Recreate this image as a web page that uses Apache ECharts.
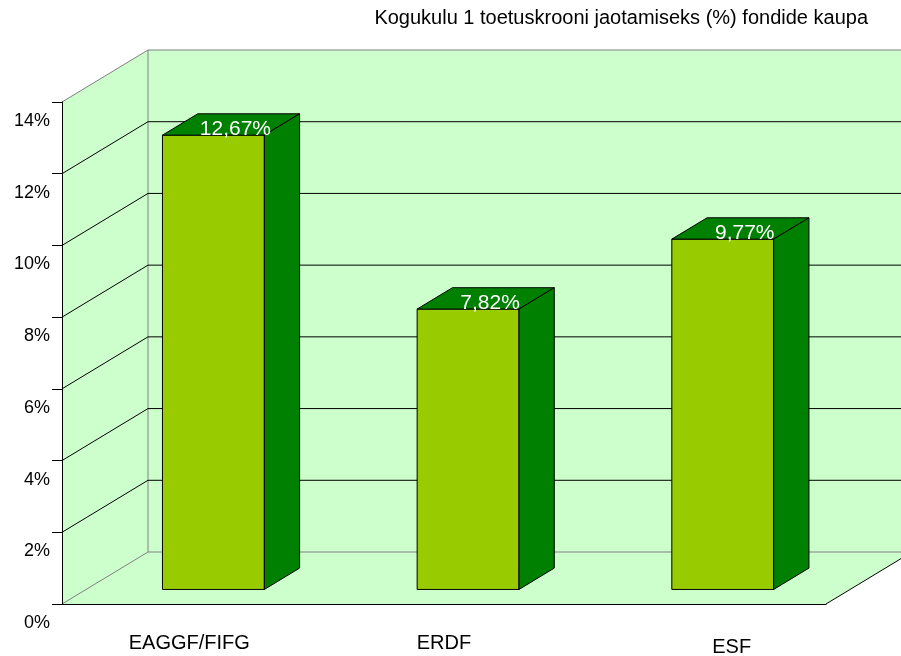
<!DOCTYPE html>
<html lang="et">
<head>
<meta charset="UTF-8">
<title>Kogukulu fondide kaupa</title>
<script src="https://cdn.jsdelivr.net/npm/echarts@6/dist/echarts.min.js"></script>
<style>
  html, body { margin: 0; padding: 0; background: #fff; }
  #chart { width: 901px; height: 656px; }
</style>
</head>
<body>
<div id="chart"></div>
<script>
// andmed
const categories = ['EAGGF/FIFG', 'ERDF', 'ESF'];
const shares = [12.67, 7.82, 9.77];
const yTicks = [0, 2, 4, 6, 8, 10, 12, 14];
const titleText = 'Kogukulu 1 toetuskrooni jaotamiseks (%) fondide kaupa';

(function () {
    const FONT = 'Liberation Sans, Arial, sans-serif';
    const DEPTH = [86, -52];      // tagaseina nihe esitasandi suhtes (px)
    const BAR_FRONT = 0.28;       // tulba esikülje sügavus
    const BAR_BACK = 0.69;        // tulba tagakülje sügavus
    const WALL = '#ccffcc';

    function shift(p, f) {
        return [p[0] + DEPTH[0] * f, p[1] + DEPTH[1] * f];
    }
    function line(a, b, stroke) {
        return {
            type: 'line',
            shape: { x1: a[0], y1: a[1], x2: b[0], y2: b[1] },
            style: { stroke: stroke, lineWidth: 1 }
        };
    }
    function poly(points, fill, stroke) {
        return {
            type: 'polygon',
            shape: { points: points },
            style: { fill: fill, stroke: stroke || null, lineWidth: 1 }
        };
    }

    // seinad ja põrand
    function renderWalls(params, api) {
        const cs = params.coordSys;
        const x0 = cs.x, x1 = cs.x + cs.width;
        const yb = api.coord([0, yTicks[0]])[1];
        const yt = api.coord([0, yTicks[yTicks.length - 1]])[1];
        const fl = [x0, yb], fr = [x1, yb], tl = [x0, yt], tr = [x1, yt];
        return {
            type: 'group',
            children: [
                poly([fl, tl, shift(tl, 1), shift(fl, 1)], WALL),
                poly([shift(fl, 1), shift(tl, 1), shift(tr, 1), shift(fr, 1)], WALL),
                poly([fl, fr, shift(fr, 1), shift(fl, 1)], WALL),
                line(shift(fl, 1), shift(tl, 1), '#808080'),
                line(fr, shift(fr, 1), '#000000')
            ]
        };
    }

    // abijooned külgseinal ja tagaseinal
    function renderGridLines(params, api) {
        const cs = params.coordSys;
        const v = api.value(1);
        const y = api.coord([0, v])[1];
        const a = [cs.x, y];
        const edge = v === yTicks[0] || v === yTicks[yTicks.length - 1];
        const stroke = edge ? '#808080' : '#000000';
        return {
            type: 'group',
            children: [
                line(a, shift(a, 1), stroke),
                line(shift(a, 1), shift([cs.x + cs.width, y], 1), stroke)
            ]
        };
    }

    // 3D tulbad
    function renderBar(params, api) {
        const i = api.value(0);
        const v = api.value(1);
        const top = api.coord([i, v]);
        const base = api.coord([i, 0]);
        const w = api.size([1, 0])[0] * 0.4;
        const l = top[0] - w / 2, r = top[0] + w / 2;
        const fBL = shift([l, base[1]], BAR_FRONT), fBR = shift([r, base[1]], BAR_FRONT);
        const fTL = shift([l, top[1]], BAR_FRONT), fTR = shift([r, top[1]], BAR_FRONT);
        const bBR = shift([r, base[1]], BAR_BACK);
        const bTL = shift([l, top[1]], BAR_BACK), bTR = shift([r, top[1]], BAR_BACK);
        const labelPos = shift(top, BAR_FRONT);
        return {
            type: 'group',
            children: [
                poly([fBL, fTL, fTR, fBR], '#99cc00', '#000000'),
                poly([fTL, bTL, bTR, fTR], '#008000', '#000000'),
                poly([fBR, fTR, bTR, bBR], '#008000', '#000000'),
                {
                    type: 'text',
                    style: {
                        text: v.toFixed(2).replace('.', ',') + '%',
                        x: labelPos[0] + 22,
                        y: labelPos[1] - 6,
                        align: 'center',
                        verticalAlign: 'middle',
                        fill: '#ffffff',
                        fontSize: 21,
                        fontFamily: FONT
                    }
                }
            ]
        };
    }

    const myChart = echarts.init(document.getElementById('chart'), null, { renderer: 'canvas' });
    const option = {
        animation: false,
        backgroundColor: '#ffffff',
        title: {
            text: titleText,
            right: 33,
            top: 8,
            padding: 0,
            textStyle: { fontSize: 20, fontWeight: 'normal', color: '#000000', fontFamily: FONT }
        },
        grid: {
            left: 62,
            top: 102,
            width: 764,
            height: 502,
            outerBoundsMode: 'none',
            containLabel: false
        },
        xAxis: {
            type: 'category',
            data: categories,
            z: 10,
            axisLine: { lineStyle: { color: '#000000', width: 1 } },
            axisTick: { length: 6, lineStyle: { color: '#000000' } },
            splitLine: { show: false },
            axisLabel: {
                margin: 29,
                fontSize: 20,
                color: '#000000',
                fontFamily: FONT,
                formatter: function (val, idx) {
                    return idx === 2 ? '{low|' + val + '}' : val;
                },
                rich: {
                    low: { fontSize: 20, color: '#000000', fontFamily: FONT, padding: [4, 0, 0, 66] }
                }
            }
        },
        yAxis: {
            type: 'value',
            min: yTicks[0],
            max: yTicks[yTicks.length - 1],
            interval: 2,
            z: 10,
            axisLine: { show: true, lineStyle: { color: '#000000', width: 1 } },
            axisTick: { show: true, length: 10, lineStyle: { color: '#000000' } },
            splitLine: { show: false },
            axisLabel: {
                formatter: function (val) { return '{p|' + val + '%}'; },
                margin: 12,
                color: '#000000',
                rich: {
                    p: { fontSize: 18, color: '#000000', fontFamily: FONT, padding: [38, 0, 0, 0] }
                }
            }
        },
        series: [
            {
                name: 'walls',
                type: 'custom',
                z: 1,
                silent: true,
                renderItem: renderWalls,
                data: [[0, 0]]
            },
            {
                name: 'grid',
                type: 'custom',
                z: 2,
                silent: true,
                renderItem: renderGridLines,
                data: yTicks.map(function (v) { return [0, v]; })
            },
            {
                name: 'Kogukulu',
                type: 'custom',
                z: 5,
                renderItem: renderBar,
                data: shares.map(function (v, i) { return [i, v]; })
            }
        ]
    };
    myChart.setOption(option);
})();
</script>
</body>
</html>
